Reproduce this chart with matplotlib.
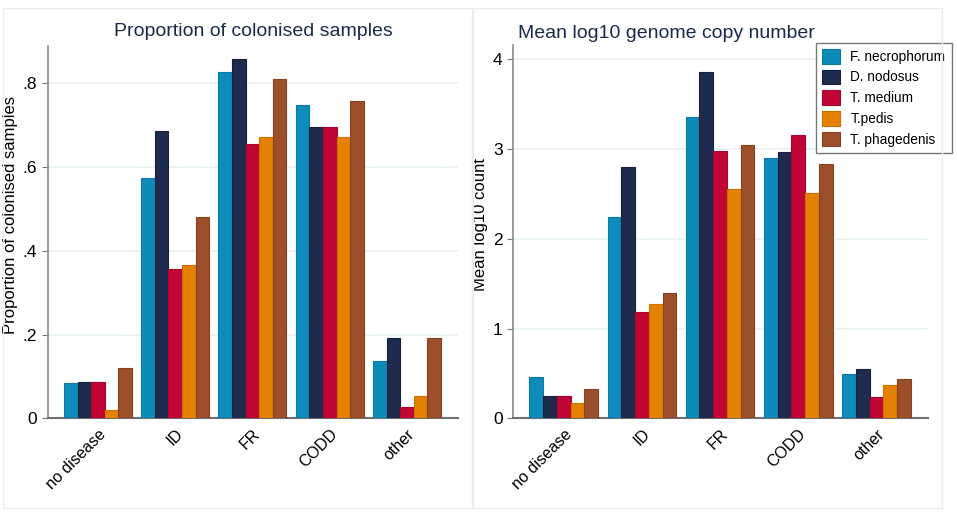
import numpy as np
import matplotlib
matplotlib.use("Agg")
from matplotlib import pyplot as plt
from matplotlib.patches import Rectangle
from matplotlib import transforms

plt.rcParams["font.family"] = ["Liberation Sans", "DejaVu Sans"]

categories = ["no disease", "ID", "FR", "CODD", "other"]
species = ["F. necrophorum", "D. nodosus", "T. medium", "T.pedis", "T. phagedenis"]
colours = ["#0d8bbb", "#1f2b4e", "#c10636", "#e58100", "#9d4f2b"]
edges = ["#0a7aa5", "#15203d", "#a8052f", "#cc7200", "#87411f"]

# proportion of colonised samples, one list per species
prop_fn = [0.084, 0.573, 0.828, 0.747, 0.138]
prop_dn = [0.087, 0.687, 0.857, 0.696, 0.192]
prop_tm = [0.087, 0.356, 0.654, 0.696, 0.027]
prop_tp = [0.021, 0.366, 0.671, 0.671, 0.054]
prop_tph = [0.119, 0.481, 0.811, 0.757, 0.192]

# mean log10 genome copy number
log_fn = [0.46, 2.24, 3.36, 2.90, 0.49]
log_dn = [0.25, 2.80, 3.86, 2.97, 0.55]
log_tm = [0.25, 1.19, 2.98, 3.16, 0.24]
log_tp = [0.17, 1.27, 2.56, 2.51, 0.37]
log_tph = [0.33, 1.40, 3.05, 2.83, 0.44]

left_ticks = [0, 0.2, 0.4, 0.6, 0.8]
left_ticklabels = ["0", ".2", ".4", ".6", ".8"]
right_ticks = [0, 1, 2, 3, 4]

W, H = 957, 519
title_col = "#1a2a4a"


def px_axes(fig, x0, x1, ytop, ybot):
    return fig.add_axes([x0 / W, (H - ybot) / H, (x1 - x0) / W, (ybot - ytop) / H])


def draw_bars(fig, ax, series):
    x = np.arange(len(categories))
    bw = 0.176
    for i, vals in enumerate(series):
        ax.bar(x + (i - 2) * bw, vals, bw, color=colours[i], edgecolor=edges[i],
               linewidth=0.8, label=species[i], zorder=3)
    ax.set_xlim(-0.65, 4.66)
    ax.set_xticks(x)
    ax.set_xticklabels(categories, rotation=45, ha="right", rotation_mode="anchor",
                       fontsize=11.5)
    shift = transforms.ScaledTranslation(-5 / 100, 2 / 100, fig.dpi_scale_trans)
    for lab in ax.get_xticklabels():
        lab.set_transform(lab.get_transform() + shift)
    ax.tick_params(axis="x", length=0, pad=6)
    ax.tick_params(axis="y", length=4, color="#777777", labelsize=12.5)
    for s in ["top", "right"]:
        ax.spines[s].set_visible(False)
    ax.spines["left"].set_color("#8a8a8a")
    ax.spines["bottom"].set_color("#6e6e6e")
    ax.spines["left"].set_linewidth(1.2)
    ax.spines["bottom"].set_linewidth(1.5)
    ax.yaxis.grid(True, color="#e9f1f3", linewidth=1.2, zorder=0)
    ax.set_axisbelow(True)


fig = plt.figure(figsize=(W / 100, H / 100), dpi=100)
fig.patch.set_facecolor("white")

# panel frames
for x0, x1 in [(3, 472), (473, 942)]:
    fig.patches.append(Rectangle((x0 / W, (H - 508) / H), (x1 - x0) / W, (508 - 8) / H,
                                 transform=fig.transFigure, fill=False,
                                 edgecolor="#e6edf0", linewidth=1.0))

ax1 = px_axes(fig, 47.7, 458, 46, 418.3)
draw_bars(fig, ax1, [prop_fn, prop_dn, prop_tm, prop_tp, prop_tph])
ax1.set_ylim(0, 0.889)
ax1.set_yticks(left_ticks)
ax1.set_yticklabels(left_ticklabels)
ax1.set_ylabel("Proportion of colonised samples", fontsize=12)
ax1.yaxis.set_label_coords(-0.072, 0.546)
fig.text(253 / W, 1 - 32 / H, "Proportion of colonised samples", ha="center",
         va="center", fontsize=14, color=title_col)

ax2 = px_axes(fig, 513, 928, 45, 418.3)
draw_bars(fig, ax2, [log_fn, log_dn, log_tm, log_tp, log_tph])
ax2.set_ylim(0, 4.16)
ax2.set_yticks(right_ticks)
ax2.set_ylabel("Mean log10 count", fontsize=12)
ax2.yaxis.set_label_coords(-0.060, 0.518)
fig.text(518 / W, 1 - 33 / H, "Mean log10 genome copy number", ha="left",
         va="center", fontsize=14, color=title_col)

leg = ax2.legend(loc="upper left", bbox_to_anchor=(815.7 / W, 1 - 42.7 / H),
                 bbox_transform=fig.transFigure, fontsize=9.8, frameon=True,
                 fancybox=False, handlelength=1.3, handleheight=1.3,
                 handletextpad=0.8, borderpad=0.45, labelspacing=0.42,
                 borderaxespad=0)
leg.get_frame().set_edgecolor("#555555")
leg.get_frame().set_linewidth(1.0)

fig.savefig("out.png", dpi=100)
